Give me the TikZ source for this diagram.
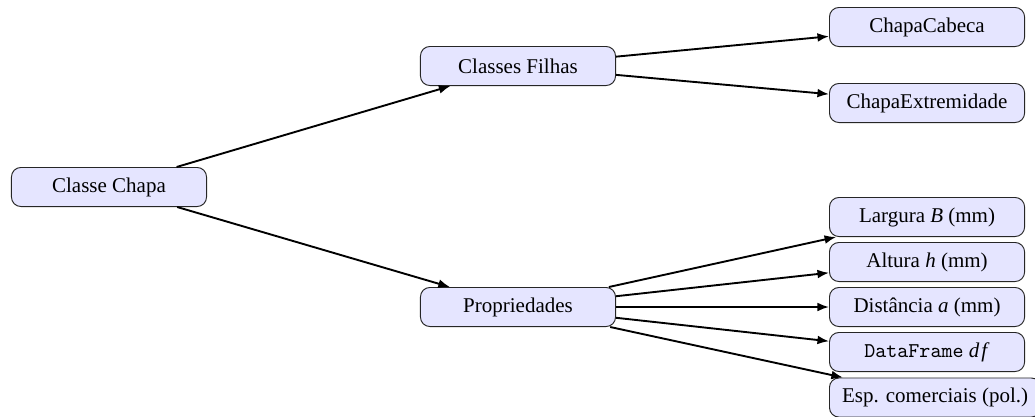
\documentclass[tikz,border=0pt]{standalone}
\usepackage{fontspec}
\setmainfont{Liberation Serif}
\usetikzlibrary{arrows.meta}
\tikzset{
  box/.style={draw=black!85, fill=blue!10, rounded corners=4.5pt, line width=0.45pt,
    minimum width=92.9pt, minimum height=18.6pt, inner xsep=6pt, inner ysep=3.5pt, font=\fontsize{10}{12}\selectfont},
  rbox/.style={box, anchor=west},
  link/.style={-{Latex[length=5.5pt,width=4.2pt]}, line width=0.9pt}
}
\begin{document}
\begin{tikzpicture}[x=0.47619pt, y=-0.47619pt]
\useasboundingbox (0,0) rectangle (1035,416);
\node[box] (chapa) at (109,187) {Classe Chapa};
\node[box] (filhas) at (518,66) {Classes Filhas};
\node[box] (props) at (518,307) {Propriedades};
\node[rbox] (cab) at (829,27) {ChapaCabeca};
\node[rbox] (ext) at (829,103) {ChapaExtremidade};
\node[rbox] (larg) at (829,217) {Largura \textit{B} (mm)};
\node[rbox] (alt) at (829,262) {Altura \textit{h} (mm)};
\node[rbox] (dist) at (829,307) {Distância \textit{a} (mm)};
\node[rbox] (df) at (829,352) {\texttt{DataFrame} \textit{d\kern1pt f}};
\node[rbox] (esp) at (829,397.5) {Esp. comerciais (pol.)};
\draw[link] (chapa) -- (filhas);
\draw[link] (chapa) -- (props);
\draw[link] (filhas) -- (cab);
\draw[link] (filhas) -- (ext);
\draw[link] (props) -- (larg);
\draw[link] (props) -- (alt);
\draw[link] (props) -- (dist);
\draw[link] (props) -- (df);
\draw[link] (props) -- (esp);
\end{tikzpicture}
\end{document}
